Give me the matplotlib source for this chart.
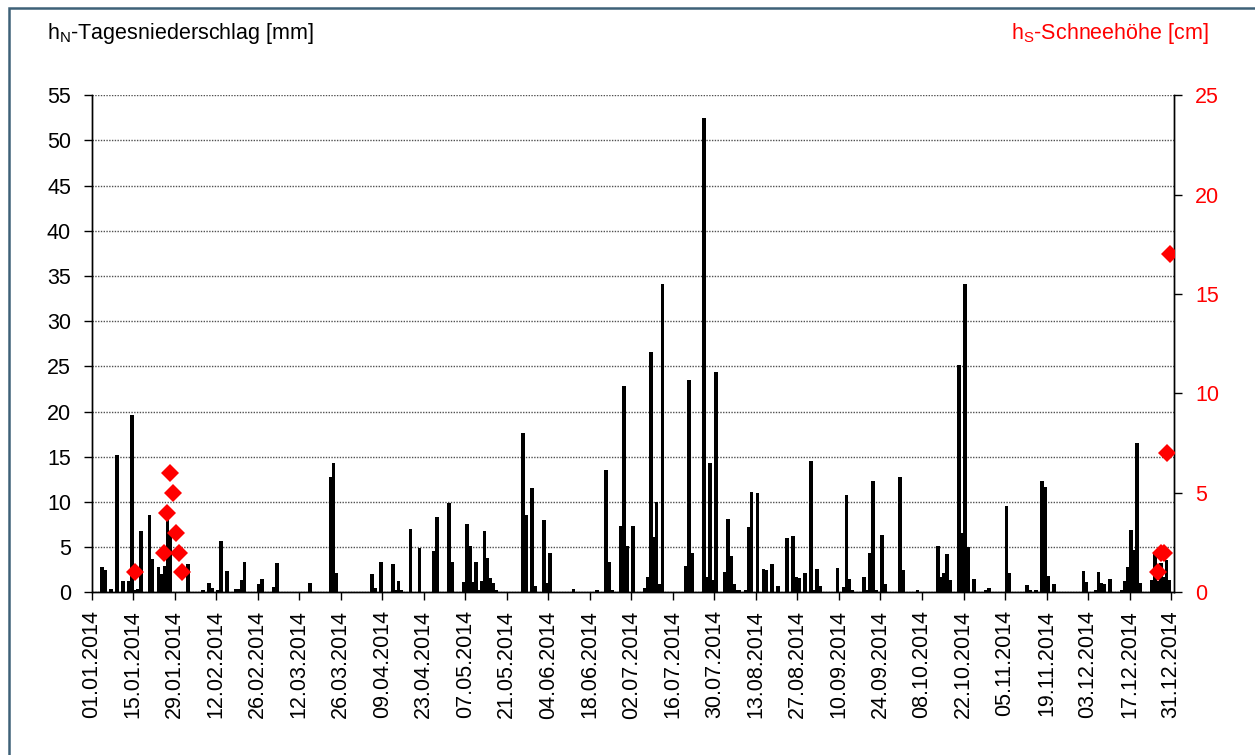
import pandas as pd
import matplotlib.pyplot as plt
from matplotlib.patches import Rectangle

plt.rcParams['font.family'] = ['Liberation Sans', 'DejaVu Sans']

# daily precipitation 2014 (day of year, 0 = 01.01.2014) in mm, days without rain are 0
rain_day = [3, 4, 6, 8, 10, 12, 13, 14, 15, 16, 19, 20, 22, 23, 24, 25, 26, 32, 37, 39,
            40, 42, 43, 45, 48, 49, 50, 51, 56, 57, 61, 62, 73, 80, 81, 82, 94, 95, 97, 101,
            102, 103, 104, 107, 110, 115, 116, 120, 121, 125, 126, 127, 128, 129, 130, 131, 132, 133, 134, 135,
            136, 145, 146, 148, 149, 152, 153, 154, 162, 170, 173, 174, 175, 178, 179, 180, 182, 186, 187, 188,
            189, 190, 191, 192, 200, 201, 202, 206, 207, 208, 209, 210, 213, 214, 215, 216, 217, 218, 220, 221,
            222, 224, 226, 227, 229, 231, 234, 236, 237, 238, 240, 242, 243, 244, 245, 251, 253, 254, 255, 256,
            260, 261, 262, 263, 264, 266, 267, 272, 273, 278, 285, 286, 287, 288, 289, 292, 293, 294, 295, 297,
            301, 302, 308, 309, 315, 316, 318, 320, 321, 322, 324, 334, 335, 338, 339, 340, 341, 343, 347, 348,
            349, 350, 351, 352, 353, 357, 358, 359, 360, 361, 362, 363]
rain_mm = [2.8, 2.5, 0.4, 15.2, 1.2, 1.2, 19.6, 0.2, 0.4, 6.8, 8.6, 3.7, 2.8, 2.0, 2.9, 8.0, 6.5, 3.1, 0.3, 1.0,
           0.45, 0.2, 5.7, 2.35, 0.4, 0.4, 1.4, 3.4, 0.9, 1.5, 0.55, 3.2, 1.0, 12.7, 14.3, 2.1, 2.0, 0.45, 3.4, 3.1,
           0.3, 1.3, 0.3, 7.0, 4.9, 4.6, 8.3, 9.9, 3.3, 1.1, 7.6, 5.1, 1.1, 3.3, 0.2, 1.2, 6.8, 3.75, 1.6, 1.0,
           0.3, 17.6, 8.5, 11.5, 0.7, 8.0, 1.0, 4.3, 0.4, 0.2, 13.5, 3.4, 0.2, 7.3, 22.8, 5.1, 7.35, 0.45, 1.65, 26.6,
           6.1, 10.0, 0.9, 34.1, 2.9, 23.5, 4.3, 52.5, 1.7, 14.3, 1.4, 24.4, 2.3, 8.1, 4.0, 0.9, 0.2, 0.25, 0.2, 7.2,
           11.1, 11.0, 2.6, 2.5, 3.1, 0.7, 6.0, 6.2, 1.65, 1.6, 2.1, 14.5, 0.2, 2.6, 0.7, 2.7, 0.55, 10.8, 1.5, 0.3,
           1.7, 0.2, 4.4, 12.3, 0.3, 6.3, 0.9, 12.75, 2.5, 0.3, 5.1, 1.7, 2.1, 4.2, 1.4, 25.1, 6.6, 34.1, 5.0, 1.5,
           0.3, 0.5, 9.6, 2.1, 0.8, 0.3, 0.2, 12.3, 11.7, 1.8, 0.9, 2.4, 1.1, 0.2, 2.2, 1.0, 0.9, 1.5, 0.2, 1.2,
           2.8, 6.9, 4.7, 16.5, 1.0, 1.4, 4.3, 1.2, 3.2, 1.7, 3.6, 1.4]

# snow depth in cm
snow_day = [14, 24, 25, 26, 27, 28, 29, 30, 359, 360, 361, 362, 363]
snow_cm = [1, 2, 4, 6, 5, 3, 2, 1, 1, 2, 2, 7, 17]

dates = pd.date_range('2014-01-01', '2014-12-31', freq='D')
tick_dates = dates[::14]
tick_labels = [d.strftime('%d.%m.%Y') for d in tick_dates]

fig = plt.figure(figsize=(12.55, 7.55), dpi=100)
ax = fig.add_axes([0.0731, 0.2155, 0.8624, 0.6585])
ax2 = ax.twinx()

ax.bar(rain_day, rain_mm, width=1.25, color='black', linewidth=0, zorder=3)
ax2.plot(snow_day, snow_cm, linestyle='none', marker='D', markersize=9.5,
         color='#FF0000', markeredgewidth=0, zorder=4)

ax.set_xlim(-0.5, len(dates) - 0.5)
ax.set_ylim(0, 55)
ax2.set_ylim(0, 25)
ax.set_yticks(range(0, 56, 5))
ax2.set_yticks(range(0, 26, 5))
ax.set_xticks([(d - dates[0]).days - 0.5 for d in tick_dates])
ax.set_xticklabels(tick_labels, rotation=90)

ax.yaxis.grid(True, linestyle=(0, (1, 1)), color='#505050', linewidth=1.0)
ax.set_axisbelow(True)

for a in (ax, ax2):
    a.spines['top'].set_visible(False)
    for s in a.spines.values():
        s.set_linewidth(1.0)
        s.set_color('black')

ax.tick_params(axis='y', direction='out', length=6, width=1, labelsize=15.5, pad=9)
ax.tick_params(axis='x', direction='out', length=6, width=1, labelsize=15.5, pad=7)
ax2.tick_params(axis='y', direction='out', length=6, width=1, labelsize=15.5, pad=9,
                labelcolor='#FF0000')

fig.text(47 / 1255, 1 - 33 / 755, r'h$_\mathregular{N}$-Tagesniederschlag [mm]',
         fontsize=15.5, va='center', ha='left', color='black')
fig.text(1209 / 1255, 1 - 33 / 755, r'h$_\mathregular{S}$-Schneehöhe [cm]',
         fontsize=15.5, va='center', ha='right', color='#FF0000')

fig.patches.append(Rectangle((8.5 / 1255, -0.2), 1.5, 1.2 - 8 / 755,
                             transform=fig.transFigure, fill=False,
                             edgecolor='#3E6178', linewidth=1.8))

fig.savefig('out.png', dpi=100)
